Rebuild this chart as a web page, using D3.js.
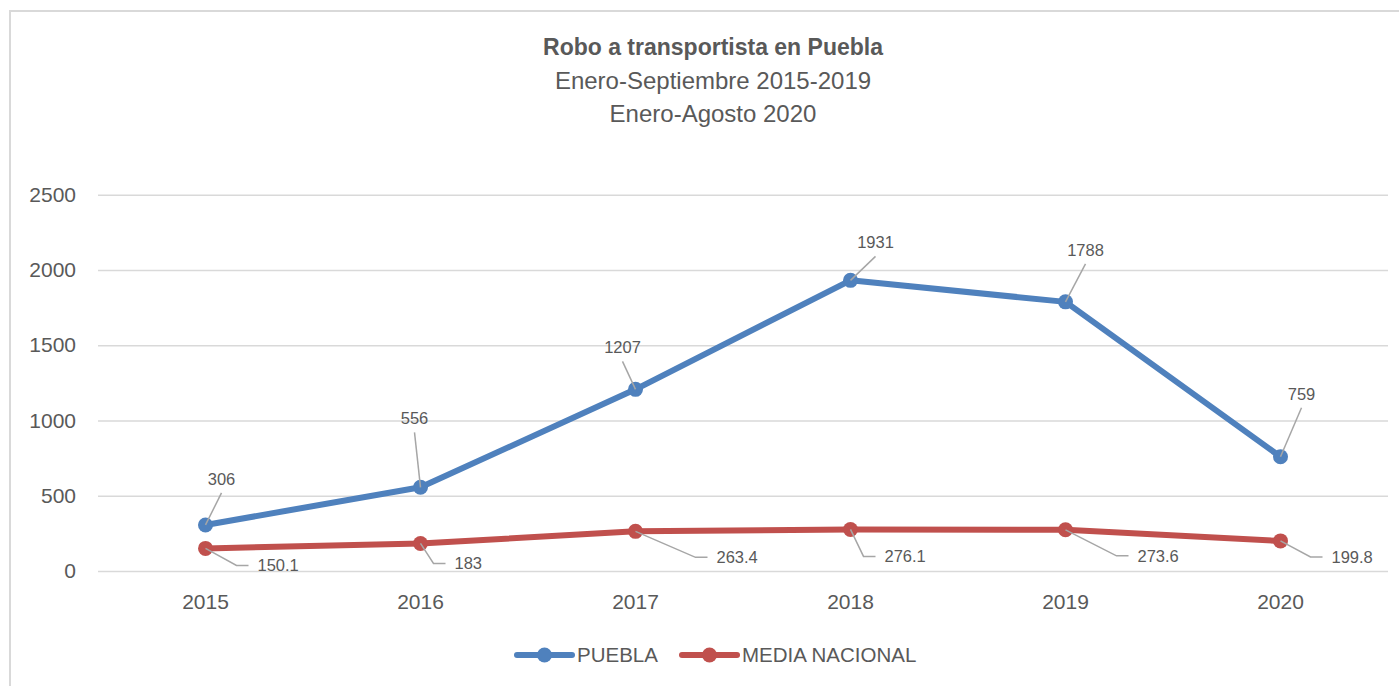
<!DOCTYPE html>
<html>
<head>
<meta charset="utf-8">
<script src="https://cdn.jsdelivr.net/npm/d3@7"></script>
<style>
  body { margin: 0; background: #fff; }
  svg { display: block; font-family: "Liberation Sans", Arial, sans-serif; }
</style>
</head>
<body>
<svg id="chart" width="1399" height="686"></svg>
<script>
var years = ["2015", "2016", "2017", "2018", "2019", "2020"];
var puebla = [306, 556, 1207, 1931, 1788, 759];
var media = [150.1, 183, 263.4, 276.1, 273.6, 199.8];
var yTicks = [0, 500, 1000, 1500, 2000, 2500];
var titleLines = ["Robo a transportista en Puebla", "Enero-Septiembre 2015-2019", "Enero-Agosto 2020"];
var seriesNames = ["PUEBLA", "MEDIA NACIONAL"];

// label placement (offset from the marker), like excel's dragged labels
var pueblaLabelOffset = [[16, -46], [-6, -69], [-13, -42], [25, -38], [20, -52], [21, -63]];
var mediaLabelOffset = [[52, 17], [34, 20], [81, 26], [34, 27], [72, 26], [51, 16]];

var blue = "#4f81bd",
    red = "#c0504d",
    textColor = "#595959",
    gridColor = "#d9d9d9",
    leaderColor = "#a6a6a6";

var svg = d3.select("#chart");

// chart area border
svg.append("rect")
  .attr("x", 10).attr("y", 11)
  .attr("width", 1420).attr("height", 700)
  .attr("fill", "none")
  .attr("stroke", gridColor)
  .attr("stroke-width", 2);

var plot = { left: 98, right: 1388, top: 194.7, bottom: 571 };

var x = d3.scaleBand()
  .domain(years)
  .range([plot.left, plot.right]);

var y = d3.scaleLinear()
  .domain([0, 2500])
  .range([plot.bottom, plot.top]);

var cx = function(i) { return x(years[i]) + x.bandwidth() / 2; };

// title
svg.append("g").selectAll("text")
  .data(titleLines)
  .enter().append("text")
  .attr("x", 713)
  .attr("y", function(d, i) { return 55 + i * 33.7; })
  .attr("text-anchor", "middle")
  .attr("fill", textColor)
  .style("font-size", function(d, i) { return i === 0 ? "23px" : "24px"; })
  .style("font-weight", function(d, i) { return i === 0 ? "bold" : "normal"; })
  .text(function(d) { return d; });

// gridlines + y labels
var yAxis = d3.axisLeft(y)
  .tickValues(yTicks)
  .tickFormat(d3.format("d"))
  .tickSize(-(plot.right - plot.left))
  .tickPadding(22);

var gy = svg.append("g")
  .attr("transform", "translate(" + plot.left + ",0)")
  .call(yAxis);
gy.select(".domain").remove();
gy.selectAll(".tick line").attr("stroke", gridColor).attr("stroke-width", 1.5);
gy.selectAll(".tick text")
  .attr("fill", textColor)
  .style("font-size", "21px")
  .style("font-family", "Liberation Sans, Arial, sans-serif");

// x labels
var xAxis = d3.axisBottom(x).tickSize(0).tickPadding(23);
var gx = svg.append("g")
  .attr("transform", "translate(0," + plot.bottom + ")")
  .call(xAxis);
gx.select(".domain").remove();
gx.selectAll(".tick text")
  .attr("fill", textColor)
  .style("font-size", "21px")
  .style("font-family", "Liberation Sans, Arial, sans-serif");

var line = d3.line()
  .x(function(d, i) { return cx(i); })
  .y(function(d) { return y(d); });

function drawSeries(values, color) {
  var g = svg.append("g");
  g.append("path")
    .datum(values)
    .attr("d", line)
    .attr("fill", "none")
    .attr("stroke", color)
    .attr("stroke-width", 6)
    .attr("stroke-linejoin", "round");
  g.selectAll("circle")
    .data(values)
    .enter().append("circle")
    .attr("cx", function(d, i) { return cx(i); })
    .attr("cy", function(d) { return y(d); })
    .attr("r", 7.5)
    .attr("fill", color);
}

drawSeries(media, red);
drawSeries(puebla, blue);

// puebla labels: text above, straight leader down to the marker
var pl = svg.append("g");
puebla.forEach(function(v, i) {
  var mx = cx(i), my = y(v);
  var lx = mx + pueblaLabelOffset[i][0], ly = my + pueblaLabelOffset[i][1];
  pl.append("line")
    .attr("x1", mx).attr("y1", my)
    .attr("x2", lx).attr("y2", ly + 14)
    .attr("stroke", leaderColor).attr("stroke-width", 1.5);
  pl.append("text")
    .attr("x", lx).attr("y", ly)
    .attr("dy", "0.35em")
    .attr("text-anchor", "middle")
    .attr("fill", textColor)
    .style("font-size", "16.5px")
    .text(v);
});

// media labels: elbow leader to the right
var ml = svg.append("g");
media.forEach(function(v, i) {
  var mx = cx(i), my = y(v);
  var lx = mx + mediaLabelOffset[i][0], ly = my + mediaLabelOffset[i][1];
  ml.append("polyline")
    .attr("points", [[mx, my], [lx - 21, ly], [lx - 9, ly]].join(" "))
    .attr("fill", "none")
    .attr("stroke", leaderColor).attr("stroke-width", 1.5);
  ml.append("text")
    .attr("x", lx).attr("y", ly)
    .attr("dy", "0.35em")
    .attr("fill", textColor)
    .style("font-size", "16.5px")
    .text(v);
});

// legend
var legendX = [517, 682];
var legend = svg.append("g");
seriesNames.forEach(function(name, i) {
  var c = i === 0 ? blue : red;
  var lx = legendX[i], ly = 655;
  legend.append("line")
    .attr("x1", lx).attr("y1", ly).attr("x2", lx + 55).attr("y2", ly)
    .attr("stroke", c).attr("stroke-width", 6).attr("stroke-linecap", "round");
  legend.append("circle")
    .attr("cx", lx + 27.5).attr("cy", ly).attr("r", 7.5).attr("fill", c);
  legend.append("text")
    .attr("x", lx + 60).attr("y", ly)
    .attr("dy", "0.35em")
    .attr("fill", textColor)
    .style("font-size", "20.5px")
    .text(name);
});
</script>
</body>
</html>
